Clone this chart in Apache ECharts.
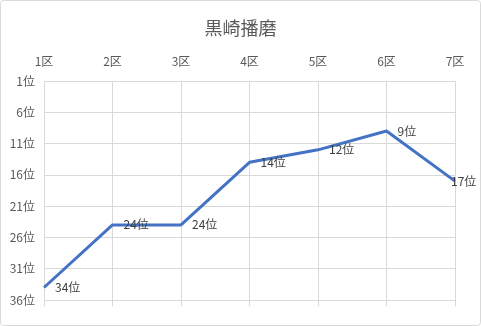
<!DOCTYPE html>
<html><head><meta charset="utf-8">
<script src="https://cdn.jsdelivr.net/npm/echarts@6/dist/echarts.min.js"></script>
<style>html,body{margin:0;padding:0;background:#fff}#c{width:481px;height:326px}</style>
</head><body><div id="c"></div>
<script>
const title = '黒崎播磨';
const categories = ['1区','2区','3区','4区','5区','6区','7区'];
const ranks = [34, 24, 24, 14, 12, 9, 17];
const rankMin = 1, rankMax = 36, rankStep = 5;

const font = '"Noto Sans CJK JP", "Noto Sans", sans-serif';
const seriesData = ranks.map((v, i) => i === ranks.length - 1
  ? {value: v, label: {distance: -5}}
  : v);
const chart = echarts.init(document.getElementById('c'), null, {renderer: 'canvas'});
chart.setOption({
  animation: false,
  backgroundColor: '#fff',
  title: {text: title, left: 'center', top: 14,
    textStyle: {fontFamily: font, fontSize: 18, fontWeight: 'normal', color: '#595959'}},
  graphic: [{type: 'rect', shape: {x: 0.5, y: 0.5, width: 480, height: 325, r: 3},
    style: {fill: 'none', stroke: '#d9d9d9', lineWidth: 1}, silent: true}],
  grid: {left: 44, right: 26, top: 81, bottom: 26},
  xAxis: [{
    type: 'category', position: 'top', data: categories, boundaryGap: false,
    axisLine: {show: false}, axisTick: {show: false},
    axisLabel: {fontFamily: font, fontSize: 12, color: '#595959', margin: 14},
    splitLine: {show: true, lineStyle: {color: '#d9d9d9', width: 1}}
  }, {
    type: 'category', position: 'bottom', data: categories, boundaryGap: false,
    axisLine: {show: false}, axisTick: {show: true, length: 6, alignWithLabel: true, lineStyle: {color: '#d9d9d9'}},
    axisLabel: {show: false}, splitLine: {show: false}
  }],
  yAxis: {
    type: 'value', inverse: true, min: rankMin, max: rankMax, interval: rankStep,
    axisLine: {show: false}, axisTick: {show: false},
    axisLabel: {fontFamily: font, fontSize: 12, color: '#595959', margin: 9, formatter: '{value}位'},
    splitLine: {show: true, lineStyle: {color: '#d9d9d9', width: 1}}
  },
  series: [{
    type: 'line', data: seriesData, xAxisIndex: 0, symbol: 'circle', symbolSize: 2, showSymbol: true,
    itemStyle: {color: 'rgba(68,114,196,0)', borderWidth: 0},
    lineStyle: {color: '#4472C4', width: 3},
    labelLayout: {hideOverlap: false},
    label: {show: true, position: 'right', distance: 10, formatter: '{c}位', opacity: 1,
      fontFamily: font, fontSize: 12, color: '#404040'}
  }]
});
</script></body></html>
